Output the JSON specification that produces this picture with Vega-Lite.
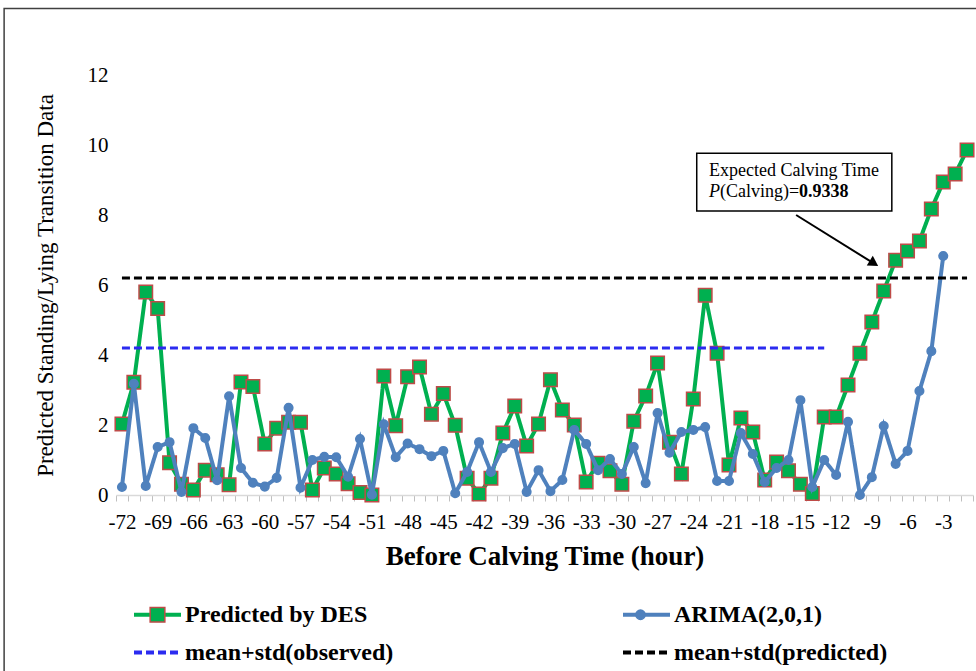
{
"$schema": "https://vega.github.io/schema/vega-lite/v6.json",
"width": 857, "height": 420,
"autosize": "none",
"padding": {"left": 116, "top": 75, "right": 3, "bottom": 176},
"background": "white",
"config": {"view": {"stroke": null}, "font": "Liberation Serif"},
"resolve": {"axis": {"x": "independent", "y": "independent"}},
"datasets": {
"des": [
{"h":-72,"v":2.03,"s":"Predicted by DES","k":"d"},{"h":-71,"v":3.22,"s":"Predicted by DES","k":"d"},{"h":-70,"v":5.8,"s":"Predicted by DES","k":"d"},{"h":-69,"v":5.33,"s":"Predicted by DES","k":"d"},{"h":-68,"v":0.92,"s":"Predicted by DES","k":"d"},{"h":-67,"v":0.31,"s":"Predicted by DES","k":"d"},{"h":-66,"v":0.14,"s":"Predicted by DES","k":"d"},{"h":-65,"v":0.71,"s":"Predicted by DES","k":"d"},{"h":-64,"v":0.58,"s":"Predicted by DES","k":"d"},{"h":-63,"v":0.29,"s":"Predicted by DES","k":"d"},{"h":-62,"v":3.23,"s":"Predicted by DES","k":"d"},{"h":-61,"v":3.1,"s":"Predicted by DES","k":"d"},{"h":-60,"v":1.46,"s":"Predicted by DES","k":"d"},{"h":-59,"v":1.91,"s":"Predicted by DES","k":"d"},{"h":-58,"v":2.08,"s":"Predicted by DES","k":"d"},{"h":-57,"v":2.08,"s":"Predicted by DES","k":"d"},{"h":-56,"v":0.14,"s":"Predicted by DES","k":"d"},{"h":-55,"v":0.77,"s":"Predicted by DES","k":"d"},{"h":-54,"v":0.6,"s":"Predicted by DES","k":"d"},{"h":-53,"v":0.32,"s":"Predicted by DES","k":"d"},{"h":-52,"v":0.07,"s":"Predicted by DES","k":"d"},{"h":-51,"v":0.0,"s":"Predicted by DES","k":"d"},{"h":-50,"v":3.4,"s":"Predicted by DES","k":"d"},{"h":-49,"v":1.98,"s":"Predicted by DES","k":"d"},{"h":-48,"v":3.38,"s":"Predicted by DES","k":"d"},{"h":-47,"v":3.66,"s":"Predicted by DES","k":"d"},{"h":-46,"v":2.31,"s":"Predicted by DES","k":"d"},{"h":-45,"v":2.9,"s":"Predicted by DES","k":"d"},{"h":-44,"v":1.99,"s":"Predicted by DES","k":"d"},{"h":-43,"v":0.48,"s":"Predicted by DES","k":"d"},{"h":-42,"v":0.03,"s":"Predicted by DES","k":"d"},{"h":-41,"v":0.48,"s":"Predicted by DES","k":"d"},{"h":-40,"v":1.77,"s":"Predicted by DES","k":"d"},{"h":-39,"v":2.54,"s":"Predicted by DES","k":"d"},{"h":-38,"v":1.4,"s":"Predicted by DES","k":"d"},{"h":-37,"v":2.03,"s":"Predicted by DES","k":"d"},{"h":-36,"v":3.29,"s":"Predicted by DES","k":"d"},{"h":-35,"v":2.43,"s":"Predicted by DES","k":"d"},{"h":-34,"v":2.0,"s":"Predicted by DES","k":"d"},{"h":-33,"v":0.37,"s":"Predicted by DES","k":"d"},{"h":-32,"v":0.91,"s":"Predicted by DES","k":"d"},{"h":-31,"v":0.69,"s":"Predicted by DES","k":"d"},{"h":-30,"v":0.31,"s":"Predicted by DES","k":"d"},{"h":-29,"v":2.11,"s":"Predicted by DES","k":"d"},{"h":-28,"v":2.83,"s":"Predicted by DES","k":"d"},{"h":-27,"v":3.77,"s":"Predicted by DES","k":"d"},{"h":-26,"v":1.51,"s":"Predicted by DES","k":"d"},{"h":-25,"v":0.6,"s":"Predicted by DES","k":"d"},{"h":-24,"v":2.74,"s":"Predicted by DES","k":"d"},{"h":-23,"v":5.71,"s":"Predicted by DES","k":"d"},{"h":-22,"v":4.05,"s":"Predicted by DES","k":"d"},{"h":-21,"v":0.86,"s":"Predicted by DES","k":"d"},{"h":-20,"v":2.2,"s":"Predicted by DES","k":"d"},{"h":-19,"v":1.8,"s":"Predicted by DES","k":"d"},{"h":-18,"v":0.43,"s":"Predicted by DES","k":"d"},{"h":-17,"v":0.94,"s":"Predicted by DES","k":"d"},{"h":-16,"v":0.69,"s":"Predicted by DES","k":"d"},{"h":-15,"v":0.31,"s":"Predicted by DES","k":"d"},{"h":-14,"v":0.04,"s":"Predicted by DES","k":"d"},{"h":-13,"v":2.23,"s":"Predicted by DES","k":"d"},{"h":-12,"v":2.23,"s":"Predicted by DES","k":"d"},{"h":-11,"v":3.14,"s":"Predicted by DES","k":"d"},{"h":-10,"v":4.05,"s":"Predicted by DES","k":"d"},{"h":-9,"v":4.94,"s":"Predicted by DES","k":"d"},{"h":-8,"v":5.83,"s":"Predicted by DES","k":"d"},{"h":-7,"v":6.71,"s":"Predicted by DES","k":"d"},{"h":-6,"v":6.97,"s":"Predicted by DES","k":"d"},{"h":-5,"v":7.26,"s":"Predicted by DES","k":"d"},{"h":-4,"v":8.17,"s":"Predicted by DES","k":"d"},{"h":-3,"v":8.94,"s":"Predicted by DES","k":"d"},{"h":-2,"v":9.17,"s":"Predicted by DES","k":"d"},{"h":-1,"v":9.86,"s":"Predicted by DES","k":"d"}
],
"arima": [
{"h":-72,"v":0.23,"s":"ARIMA(2,0,1)","k":"a"},{"h":-71,"v":3.18,"s":"ARIMA(2,0,1)","k":"a"},{"h":-70,"v":0.26,"s":"ARIMA(2,0,1)","k":"a"},{"h":-69,"v":1.37,"s":"ARIMA(2,0,1)","k":"a"},{"h":-68,"v":1.51,"s":"ARIMA(2,0,1)","k":"a"},{"h":-67,"v":0.09,"s":"ARIMA(2,0,1)","k":"a"},{"h":-66,"v":1.91,"s":"ARIMA(2,0,1)","k":"a"},{"h":-65,"v":1.63,"s":"ARIMA(2,0,1)","k":"a"},{"h":-64,"v":0.42,"s":"ARIMA(2,0,1)","k":"a"},{"h":-63,"v":2.82,"s":"ARIMA(2,0,1)","k":"a"},{"h":-62,"v":0.77,"s":"ARIMA(2,0,1)","k":"a"},{"h":-61,"v":0.35,"s":"ARIMA(2,0,1)","k":"a"},{"h":-60,"v":0.24,"s":"ARIMA(2,0,1)","k":"a"},{"h":-59,"v":0.49,"s":"ARIMA(2,0,1)","k":"a"},{"h":-58,"v":2.49,"s":"ARIMA(2,0,1)","k":"a"},{"h":-57,"v":0.21,"s":"ARIMA(2,0,1)","k":"a"},{"h":-56,"v":1.0,"s":"ARIMA(2,0,1)","k":"a"},{"h":-55,"v":1.09,"s":"ARIMA(2,0,1)","k":"a"},{"h":-54,"v":1.08,"s":"ARIMA(2,0,1)","k":"a"},{"h":-53,"v":0.52,"s":"ARIMA(2,0,1)","k":"a"},{"h":-52,"v":1.6,"s":"ARIMA(2,0,1)","k":"a"},{"h":-51,"v":0.01,"s":"ARIMA(2,0,1)","k":"a"},{"h":-50,"v":2.02,"s":"ARIMA(2,0,1)","k":"a"},{"h":-49,"v":1.08,"s":"ARIMA(2,0,1)","k":"a"},{"h":-48,"v":1.47,"s":"ARIMA(2,0,1)","k":"a"},{"h":-47,"v":1.31,"s":"ARIMA(2,0,1)","k":"a"},{"h":-46,"v":1.11,"s":"ARIMA(2,0,1)","k":"a"},{"h":-45,"v":1.26,"s":"ARIMA(2,0,1)","k":"a"},{"h":-44,"v":0.05,"s":"ARIMA(2,0,1)","k":"a"},{"h":-43,"v":0.66,"s":"ARIMA(2,0,1)","k":"a"},{"h":-42,"v":1.51,"s":"ARIMA(2,0,1)","k":"a"},{"h":-41,"v":0.66,"s":"ARIMA(2,0,1)","k":"a"},{"h":-40,"v":1.34,"s":"ARIMA(2,0,1)","k":"a"},{"h":-39,"v":1.46,"s":"ARIMA(2,0,1)","k":"a"},{"h":-38,"v":0.09,"s":"ARIMA(2,0,1)","k":"a"},{"h":-37,"v":0.71,"s":"ARIMA(2,0,1)","k":"a"},{"h":-36,"v":0.11,"s":"ARIMA(2,0,1)","k":"a"},{"h":-35,"v":0.43,"s":"ARIMA(2,0,1)","k":"a"},{"h":-34,"v":1.86,"s":"ARIMA(2,0,1)","k":"a"},{"h":-33,"v":1.46,"s":"ARIMA(2,0,1)","k":"a"},{"h":-32,"v":0.71,"s":"ARIMA(2,0,1)","k":"a"},{"h":-31,"v":1.03,"s":"ARIMA(2,0,1)","k":"a"},{"h":-30,"v":0.6,"s":"ARIMA(2,0,1)","k":"a"},{"h":-29,"v":1.37,"s":"ARIMA(2,0,1)","k":"a"},{"h":-28,"v":0.34,"s":"ARIMA(2,0,1)","k":"a"},{"h":-27,"v":2.34,"s":"ARIMA(2,0,1)","k":"a"},{"h":-26,"v":1.21,"s":"ARIMA(2,0,1)","k":"a"},{"h":-25,"v":1.8,"s":"ARIMA(2,0,1)","k":"a"},{"h":-24,"v":1.86,"s":"ARIMA(2,0,1)","k":"a"},{"h":-23,"v":1.94,"s":"ARIMA(2,0,1)","k":"a"},{"h":-22,"v":0.4,"s":"ARIMA(2,0,1)","k":"a"},{"h":-21,"v":0.4,"s":"ARIMA(2,0,1)","k":"a"},{"h":-20,"v":1.77,"s":"ARIMA(2,0,1)","k":"a"},{"h":-19,"v":1.17,"s":"ARIMA(2,0,1)","k":"a"},{"h":-18,"v":0.37,"s":"ARIMA(2,0,1)","k":"a"},{"h":-17,"v":0.77,"s":"ARIMA(2,0,1)","k":"a"},{"h":-16,"v":1.0,"s":"ARIMA(2,0,1)","k":"a"},{"h":-15,"v":2.71,"s":"ARIMA(2,0,1)","k":"a"},{"h":-14,"v":0.23,"s":"ARIMA(2,0,1)","k":"a"},{"h":-13,"v":1.0,"s":"ARIMA(2,0,1)","k":"a"},{"h":-12,"v":0.57,"s":"ARIMA(2,0,1)","k":"a"},{"h":-11,"v":2.09,"s":"ARIMA(2,0,1)","k":"a"},{"h":-10,"v":0.0,"s":"ARIMA(2,0,1)","k":"a"},{"h":-9,"v":0.51,"s":"ARIMA(2,0,1)","k":"a"},{"h":-8,"v":1.97,"s":"ARIMA(2,0,1)","k":"a"},{"h":-7,"v":0.89,"s":"ARIMA(2,0,1)","k":"a"},{"h":-6,"v":1.26,"s":"ARIMA(2,0,1)","k":"a"},{"h":-5,"v":2.97,"s":"ARIMA(2,0,1)","k":"a"},{"h":-4,"v":4.11,"s":"ARIMA(2,0,1)","k":"a"},{"h":-3,"v":6.83,"s":"ARIMA(2,0,1)","k":"a"}
],
"means": [
{"h":-72,"v":4.2,"s":"mean+std(observed)"},{"h":-13,"v":4.2,"s":"mean+std(observed)"},
{"h":-72,"v":6.2,"s":"mean+std(predicted)"},{"h":-1,"v":6.2,"s":"mean+std(predicted)"}
]
},
"layer": [
{
"data": {"name": "des"},
"mark": {"type": "line", "strokeWidth": 4},
"encoding": {
"x": {"field": "h", "type": "quantitative",
"scale": {"domain": [-72.5, -0.5], "nice": false, "zero": false},
"axis": {"orient": "bottom", "title": null, "labels": false,
"values": [-72.5,-71.5,-70.5,-69.5,-68.5,-67.5,-66.5,-65.5,-64.5,-63.5,-62.5,-61.5,-60.5,-59.5,-58.5,-57.5,-56.5,-55.5,-54.5,-53.5,-52.5,-51.5,-50.5,-49.5,-48.5,-47.5,-46.5,-45.5,-44.5,-43.5,-42.5,-41.5,-40.5,-39.5,-38.5,-37.5,-36.5,-35.5,-34.5,-33.5,-32.5,-31.5,-30.5,-29.5,-28.5,-27.5,-26.5,-25.5,-24.5,-23.5,-22.5,-21.5,-20.5,-19.5,-18.5,-17.5,-16.5,-15.5,-14.5,-13.5,-12.5,-11.5,-10.5,-9.5,-8.5,-7.5,-6.5,-5.5,-4.5,-3.5,-2.5,-1.5,-0.5],
"tickSize": 6, "tickColor": "#BFBFBF", "tickWidth": 1,
"domainColor": "#D9D9D9", "domainWidth": 1.5, "grid": false}},
"y": {"field": "v", "type": "quantitative",
"scale": {"domain": [0, 12], "nice": false},
"axis": {"orient": "left", "title": "Predicted Standing/Lying Transition Data",
"values": [0,2,4,6,8,10,12], "domain": false, "ticks": false, "grid": false,
"labelFont": "Liberation Serif", "labelFontSize": 21, "labelColor": "#000000", "labelPadding": 8, "labelFlush": false, "labelOverlap": false,
"titleFont": "Liberation Serif", "titleFontSize": 23, "titleFontWeight": "normal", "titleColor": "#000000", "titlePadding": 30}},
"color": {"field": "s", "type": "nominal",
"scale": {"domain": ["Predicted by DES","ARIMA(2,0,1)","mean+std(observed)","mean+std(predicted)"], "range": ["#00B050","#4F81BD","#2B2BF0","#000000"]},
"legend": {"title": null, "orient": "none", "direction": "horizontal", "legendX": 16, "legendY": 514, "columns": 2, "columnPadding": 221, "rowPadding": -2, "padding": 0,
"symbolType": "stroke", "symbolSize": 2209, "symbolStrokeWidth": 4,
"labelFont": "Liberation Serif", "labelFontSize": 24, "labelFontWeight": "bold", "labelColor": "#000000", "labelLimit": 400, "labelOffset": 2}},
"strokeDash": {"field": "s", "type": "nominal",
"scale": {"domain": ["Predicted by DES","ARIMA(2,0,1)","mean+std(observed)","mean+std(predicted)"], "range": [[1,0],[1,0],[8,4],[8,4]]},
"legend": {"title": null, "orient": "none", "direction": "horizontal", "legendX": 16, "legendY": 514, "columns": 2, "columnPadding": 221, "rowPadding": -2, "padding": 0,
"symbolType": "stroke", "symbolSize": 2209, "symbolStrokeWidth": 4,
"labelFont": "Liberation Serif", "labelFontSize": 24, "labelFontWeight": "bold", "labelColor": "#000000", "labelLimit": 400, "labelOffset": 2}}
}
},
{
"data": {"name": "des"},
"mark": {"type": "point", "filled": true, "opacity": 1, "size": 2025, "strokeWidth": 1.5},
"encoding": {
"x": {"field": "h", "type": "quantitative",
"axis": {"orient": "bottom", "title": "Before Calving Time (hour)",
"values": [-72,-69,-66,-63,-60,-57,-54,-51,-48,-45,-42,-39,-36,-33,-30,-27,-24,-21,-18,-15,-12,-9,-6,-3],
"labelExpr": "'' + datum.value",
"ticks": false, "tickSize": 0, "domain": false, "grid": false,
"labelFont": "Liberation Serif", "labelFontSize": 21, "labelColor": "#000000",
"labelPadding": 16, "labelAngle": 0, "labelOverlap": false, "labelFlush": false, "labelBound": false,
"titleFont": "Liberation Serif", "titleFontSize": 27, "titleFontWeight": "bold", "titleColor": "#000000", "titlePadding": 11}},
"y": {"field": "v", "type": "quantitative", "axis": null},
"shape": {"field": "k", "type": "nominal",
"scale": {"domain": ["d","a","o","p"], "range": ["M-0.3,-0.3H0.3V0.3H-0.3Z","M0.19,0A0.19,0.19,0,1,1,-0.19,0A0.19,0.19,0,1,1,0.19,0Z","M-0.3,-0.3H0.3V0.3H-0.3Z","M-0.3,-0.3H0.3V0.3H-0.3Z"]},
"legend": {"title": null, "orient": "none", "direction": "horizontal", "legendX": 16, "legendY": 514, "columns": 2, "columnPadding": 221, "rowPadding": -2, "padding": 0,
"symbolSize": 2401, "symbolStrokeWidth": 1.5,
"labelFont": "Liberation Serif", "labelFontSize": 24, "labelFontWeight": "bold", "labelOpacity": 0, "labelLimit": 400, "labelOffset": 2,
"labelExpr": "datum.label === 'd' ? 'Predicted by DES' : datum.label === 'a' ? 'ARIMA(2,0,1)' : datum.label === 'o' ? 'mean+std(observed)' : 'mean+std(predicted)'"}},
"fill": {"field": "k", "type": "nominal",
"scale": {"domain": ["d","a","o","p"], "range": ["#00B050","#4F81BD","transparent","transparent"]}},
"stroke": {"field": "k", "type": "nominal",
"scale": {"domain": ["d","a","o","p"], "range": ["#BE4B48","#4F81BD","transparent","transparent"]}}
}
},
{
"data": {"name": "arima"},
"mark": {"type": "line", "strokeWidth": 4},
"encoding": {
"x": {"field": "h", "type": "quantitative", "axis": null},
"y": {"field": "v", "type": "quantitative", "axis": null},
"color": {"field": "s", "type": "nominal"},
"strokeDash": {"field": "s", "type": "nominal"}
}
},
{
"data": {"name": "arima"},
"mark": {"type": "point", "filled": true, "opacity": 1, "size": 2025, "strokeWidth": 1.5},
"encoding": {
"x": {"field": "h", "type": "quantitative", "axis": null},
"y": {"field": "v", "type": "quantitative", "axis": null},
"shape": {"field": "k", "type": "nominal"},
"fill": {"field": "k", "type": "nominal"},
"stroke": {"field": "k", "type": "nominal"}
}
},
{
"data": {"name": "means"},
"mark": {"type": "line", "strokeWidth": 3},
"encoding": {
"x": {"field": "h", "type": "quantitative", "axis": null},
"y": {"field": "v", "type": "quantitative", "axis": null},
"color": {"field": "s", "type": "nominal"},
"strokeDash": {"field": "s", "type": "nominal"}
}
},
{
"data": {"values": [{}]},
"mark": {"type": "rect", "fill": "white", "stroke": "#000000", "strokeWidth": 1.5},
"encoding": {
"x": {"datum": -23.71, "type": "quantitative", "axis": null},
"x2": {"datum": -7.32},
"y": {"datum": 9.763, "type": "quantitative", "axis": null},
"y2": {"datum": 8.114}
}
},
{
"data": {"values": [{}]},
"mark": {"type": "text", "text": "Expected Calving Time", "align": "left", "baseline": "middle", "font": "Liberation Serif", "fontSize": 18, "color": "#000000"},
"encoding": {
"x": {"datum": -22.67, "type": "quantitative", "axis": null},
"y": {"datum": 9.266, "type": "quantitative", "axis": null}
}
},
{
"data": {"values": [{}]},
"mark": {"type": "text", "text": "P", "align": "left", "baseline": "middle", "font": "Liberation Serif", "fontSize": 18, "fontStyle": "italic", "color": "#000000"},
"encoding": {
"x": {"datum": -22.67, "type": "quantitative", "axis": null},
"y": {"datum": 8.666, "type": "quantitative", "axis": null}
}
},
{
"data": {"values": [{}]},
"mark": {"type": "text", "text": "(Calving)=", "align": "left", "baseline": "middle", "font": "Liberation Serif", "fontSize": 18, "color": "#000000", "dx": 11},
"encoding": {
"x": {"datum": -22.67, "type": "quantitative", "axis": null},
"y": {"datum": 8.666, "type": "quantitative", "axis": null}
}
},
{
"data": {"values": [{}]},
"mark": {"type": "text", "text": "0.9338", "align": "left", "baseline": "middle", "font": "Liberation Serif", "fontSize": 18, "fontWeight": "bold", "color": "#000000", "dx": 90},
"encoding": {
"x": {"datum": -22.67, "type": "quantitative", "axis": null},
"y": {"datum": 8.666, "type": "quantitative", "axis": null}
}
},
{
"data": {"values": [{}]},
"mark": {"type": "rule", "stroke": "#000000", "strokeWidth": 2},
"encoding": {
"x": {"datum": -15.36, "type": "quantitative", "axis": null},
"y": {"datum": 8.0, "type": "quantitative", "axis": null},
"x2": {"datum": -8.8},
"y2": {"datum": 6.61}
}
},
{
"data": {"values": [{}]},
"mark": {"type": "point", "shape": "triangle-right", "angle": 32, "size": 130, "filled": true, "fill": "#000000", "stroke": null, "opacity": 1},
"encoding": {
"x": {"datum": -8.82, "type": "quantitative", "axis": null},
"y": {"datum": 6.62, "type": "quantitative", "axis": null}
}
},
{
"data": {"values": [{}]},
"mark": {"type": "rect", "filled": false, "stroke": "#404040", "strokeWidth": 1.5, "clip": false},
"encoding": {
"x": {"datum": -81.9, "type": "quantitative", "axis": null},
"x2": {"datum": 2.0},
"y": {"datum": 13.9, "type": "quantitative", "axis": null},
"y2": {"datum": -5.4}
}
}
]
}
